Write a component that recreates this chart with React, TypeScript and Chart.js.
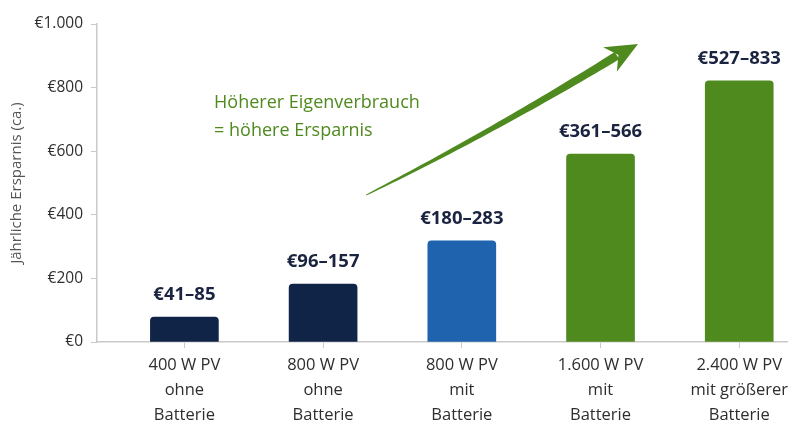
import React, { useEffect, useRef } from "react";
import { Chart, registerables } from "chart.js";

Chart.register(...registerables);

const categories: string[][] = [
  ["400 W PV", "ohne", "Batterie"],
  ["800 W PV", "ohne", "Batterie"],
  ["800 W PV", "mit", "Batterie"],
  ["1.600 W PV", "mit", "Batterie"],
  ["2.400 W PV", "mit größerer", "Batterie"],
];
const savings: number[] = [78, 182, 318, 591, 821];
const rangeLabels: string[] = ["€41–85", "€96–157", "€180–283", "€361–566", "€527–833"];
const barColors: string[] = ["#0f2447", "#0f2447", "#1f62ad", "#4f8a1f", "#4f8a1f"];
const yTicks: number[] = [0, 200, 400, 600, 800, 1000];
const annotationLines: string[] = ["Höherer Eigenverbrauch", "= höhere Ersparnis"];
// arrow from/to in data units (x index, y value)
const arrowStart = { x: 1.31, y: 462 };
const arrowEnd = { x: 3.27, y: 937 };

const FONT = "'Open Sans', Lato, sans-serif";

function fmtEuro(v: number): string {
  const s = Math.round(v).toString().replace(/\B(?=(\d{3})+(?!\d))/g, ".");
  return "€" + s;
}

const overlayPlugin = {
  id: "overlay",
  afterDatasetsDraw(chart: any) {
    const { ctx, scales } = chart;
    const xs = scales.x;
    const ys = scales.y;
    ctx.save();
    // value labels
    const meta = chart.getDatasetMeta(0);
    ctx.font = `bold 18.5px ${FONT}`;
    ctx.fillStyle = "#1a2440";
    ctx.textAlign = "center";
    ctx.textBaseline = "middle";
    meta.data.forEach((el: any, i: number) => {
      ctx.fillText(rangeLabels[i], el.x, el.y - 22);
    });
    // annotation text
    ctx.font = `18px ${FONT}`;
    ctx.fillStyle = "#4f8a1f";
    ctx.textAlign = "left";
    const tx = xs.getPixelForValue(0.214);
    annotationLines.forEach((line, i) => {
      ctx.fillText(line, tx, ys.getPixelForValue(752) + i * 28);
    });
    // arrow
    const x0 = xs.getPixelForValue(arrowStart.x);
    const y0 = ys.getPixelForValue(arrowStart.y);
    const x1 = xs.getPixelForValue(arrowEnd.x);
    const y1 = ys.getPixelForValue(arrowEnd.y);
    const dx = x1 - x0, dy = y1 - y0;
    const len = Math.hypot(dx, dy);
    const ux = dx / len, uy = dy / len;
    const nx = -uy, ny = ux;
    const headLen = 32, headW = 14;
    const bx = x1 - ux * headLen * 0.75, by = y1 - uy * headLen * 0.75;
    const bend = 6;
    const cx = (x0 + bx) / 2 + nx * bend, cy = (y0 + by) / 2 + ny * bend;
    const N = 40;
    const pts: { x: number; y: number; w: number }[] = [];
    for (let k = 0; k <= N; k++) {
      const t = k / N;
      const px = (1 - t) * (1 - t) * x0 + 2 * (1 - t) * t * cx + t * t * bx;
      const py = (1 - t) * (1 - t) * y0 + 2 * (1 - t) * t * cy + t * t * by;
      pts.push({ x: px, y: py, w: 0.5 + 3.8 * Math.pow(t, 0.8) });
    }
    const offs = (k: number) => {
      const q = pts[Math.min(k + 1, N)], r = pts[Math.max(k - 1, 0)];
      const tx2 = q.x - r.x, ty2 = q.y - r.y;
      const l = Math.hypot(tx2, ty2);
      return { ox: (-ty2 / l) * pts[k].w, oy: (tx2 / l) * pts[k].w };
    };
    ctx.fillStyle = "#4f8a1f";
    ctx.beginPath();
    for (let k = 0; k <= N; k++) {
      const { ox, oy } = offs(k);
      if (k === 0) ctx.moveTo(pts[k].x + ox, pts[k].y + oy);
      else ctx.lineTo(pts[k].x + ox, pts[k].y + oy);
    }
    for (let k = N; k >= 0; k--) {
      const { ox, oy } = offs(k);
      ctx.lineTo(pts[k].x - ox, pts[k].y - oy);
    }
    ctx.closePath();
    ctx.fill();
    // head
    const hx = x1 - ux * headLen, hy = y1 - uy * headLen;
    ctx.beginPath();
    ctx.moveTo(x1, y1);
    ctx.lineTo(hx + nx * headW, hy + ny * headW);
    ctx.lineTo(x1 - ux * headLen * 0.7, y1 - uy * headLen * 0.7);
    ctx.lineTo(hx - nx * headW, hy - ny * headW);
    ctx.closePath();
    ctx.fill();
    ctx.restore();
  },
};

export default function App() {
  const ref = useRef<HTMLCanvasElement | null>(null);
  useEffect(() => {
    if (!ref.current) return;
    const chart = new Chart(ref.current, {
      type: "bar",
      data: {
        datasets: [
          {
            data: savings.map((v, i) => ({ x: i, y: v })),
            backgroundColor: barColors,
            borderRadius: { topLeft: 4, topRight: 4, bottomLeft: 0, bottomRight: 0 },
            borderSkipped: "bottom",
            barThickness: 68,
          },
        ],
      },
      options: {
        animation: false,
        responsive: false,
        maintainAspectRatio: false,
        layout: { padding: { top: 24, right: 0, left: 8, bottom: 0 } },
        plugins: { legend: { display: false }, tooltip: { enabled: false } },
        scales: {
          x: {
            type: "linear",
            min: -0.63,
            max: 4.35,
            bounds: "data",
            offset: false,
            grid: { display: true, offset: false, drawOnChartArea: false, drawTicks: true, tickLength: 6, color: "#c9c9c9" },
            border: { color: "#c9c9c9", width: 1.5 },
            afterBuildTicks: (scale: any) => {
              scale.ticks = categories.map((_, i) => ({ value: i }));
            },
            ticks: {
              autoSkip: false,
              includeBounds: false,
              stepSize: 1,
              maxRotation: 0,
              padding: 5,
              color: "#2e2e2e",
              font: { family: FONT, size: 16.5, lineHeight: 1.5 },
              callback: (v: any) => categories[Math.round(Number(v))] ?? "",
            },
            afterFit: (scale: any) => {
              scale.height = 84;
            },
          },
          y: {
            min: 0,
            max: 1000,
            afterBuildTicks: (scale: any) => {
              scale.ticks = yTicks.map((v) => ({ value: v }));
            },
            grid: { display: true, drawOnChartArea: false, drawTicks: true, tickLength: 6, color: "#c9c9c9" },
            border: { color: "#c9c9c9", width: 1.5 },
            ticks: {
              padding: 8,
              color: "#2e2e2e",
              font: { family: FONT, size: 15.5, weight: 500 },
              callback: (v: any) => fmtEuro(Number(v)),
            },
            title: {
              display: true,
              text: "Jährliche Ersparnis (ca.)",
              color: "#555555",
              font: { family: FONT, size: 15 },
              padding: { top: 0, bottom: 0 },
            },
            afterFit: (scale: any) => {
              scale.width = 89;
            },
          },
        },
      },
      plugins: [overlayPlugin],
    });
    return () => chart.destroy();
  }, []);
  return (
    <div style={{ position: "fixed", left: 0, top: 0, width: 793, height: 426, background: "#fff" }}>
      <canvas ref={ref} width={793} height={426} style={{ display: "block" }} />
    </div>
  );
}
